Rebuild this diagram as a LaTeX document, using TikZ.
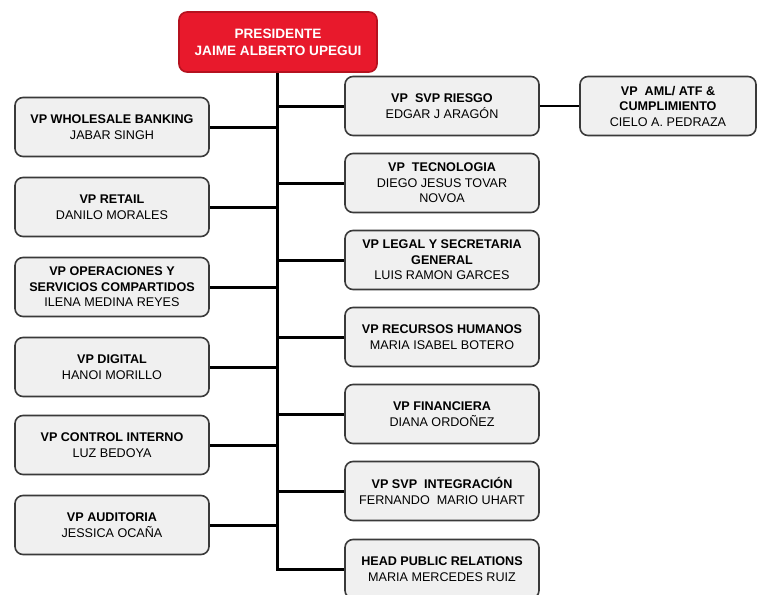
\documentclass[tikz,border=0pt]{standalone}
\usepackage{fontspec}
\setmainfont{Liberation Sans}
\definecolor{presred}{HTML}{E8192C}
\definecolor{presedge}{HTML}{B5121F}
\definecolor{boxfill}{HTML}{F0F0F0}
\definecolor{boxedge}{HTML}{3A3A3A}
\tikzset{
  orgbox/.style={draw=boxedge, fill=boxfill, line width=1.6pt, rounded corners=8pt,
    minimum width=194pt, minimum height=59pt, align=center, inner sep=2pt,
    font=\fontsize{12.6}{15.5}\selectfont},
  presbox/.style={orgbox, draw=presedge, fill=presred, text=white, minimum width=198pt,
    minimum height=60pt, font=\fontsize{13.6}{17}\selectfont\bfseries},
  link/.style={line width=3pt, black},
  sidelink/.style={line width=2.2pt, black}
}
\begin{document}
\begin{tikzpicture}[x=1pt,y=-1pt]
\useasboundingbox (0,0) rectangle (757,594);
\clip (0,0) rectangle (757,594);
\node[presbox] (pres) at (278,42) {PRESIDENTE\\JAIME ALBERTO UPEGUI};
% left column
\node[orgbox] (wb) at (112,127) {\textbf{VP WHOLESALE BANKING}\\JABAR SINGH};
\node[orgbox] (ret) at (112,207) {\textbf{VP RETAIL}\\DANILO MORALES};
\node[orgbox] (ops) at (112,287) {\textbf{VP OPERACIONES Y}\\\textbf{SERVICIOS COMPARTIDOS}\\ILENA MEDINA REYES};
\node[orgbox] (dig) at (112,367) {\textbf{VP DIGITAL}\\HANOI MORILLO};
\node[orgbox] (ctl) at (112,445) {\textbf{VP CONTROL INTERNO}\\LUZ BEDOYA};
\node[orgbox] (aud) at (112,525) {\textbf{VP AUDITORIA}\\JESSICA OCAÑA};
% right column
\node[orgbox] (rsk) at (442,106) {\textbf{VP\ \ SVP RIESGO}\\EDGAR J ARAGÓN};
\node[orgbox] (tec) at (442,183) {\textbf{VP\ \ TECNOLOGIA}\\DIEGO JESUS TOVAR\\NOVOA};
\node[orgbox] (leg) at (442,260) {\textbf{VP LEGAL Y SECRETARIA}\\\textbf{GENERAL}\\LUIS RAMON GARCES};
\node[orgbox] (rh) at (442,337) {\textbf{VP RECURSOS HUMANOS}\\MARIA ISABEL BOTERO};
\node[orgbox] (fin) at (442,414) {\textbf{VP FINANCIERA}\\DIANA ORDOÑEZ};
\node[orgbox] (int) at (442,491) {\textbf{VP SVP\ \ INTEGRACIÓN}\\FERNANDO\ \ MARIO UHART};
\node[orgbox] (hr) at (442,569) {\textbf{HEAD PUBLIC RELATIONS}\\MARIA MERCEDES RUIZ};
\node[orgbox, minimum width=176pt] (aml) at (668,106) {\textbf{VP\ \ AML/ ATF \&}\\\textbf{CUMPLIMIENTO}\\CIELO A. PEDRAZA};
% trunk and branches
\coordinate (trunk) at ([xshift=-1pt]pres.south);
\draw[link] (trunk) -- (trunk |- hr.west) -- (hr.west);
\draw[link] (wb.east) -- (wb.east -| trunk);
\draw[link] (ret.east) -- (ret.east -| trunk);
\draw[link] (ops.east) -- (ops.east -| trunk);
\draw[link] (dig.east) -- (dig.east -| trunk);
\draw[link] (ctl.east) -- (ctl.east -| trunk);
\draw[link] (aud.east) -- (aud.east -| trunk);
\draw[link] (rsk.west) -- (rsk.west -| trunk);
\draw[link] (tec.west) -- (tec.west -| trunk);
\draw[link] (leg.west) -- (leg.west -| trunk);
\draw[link] (rh.west) -- (rh.west -| trunk);
\draw[link] (fin.west) -- (fin.west -| trunk);
\draw[link] (int.west) -- (int.west -| trunk);
\draw[sidelink] (rsk.east) -- (aml.west);
\end{tikzpicture}
\end{document}
